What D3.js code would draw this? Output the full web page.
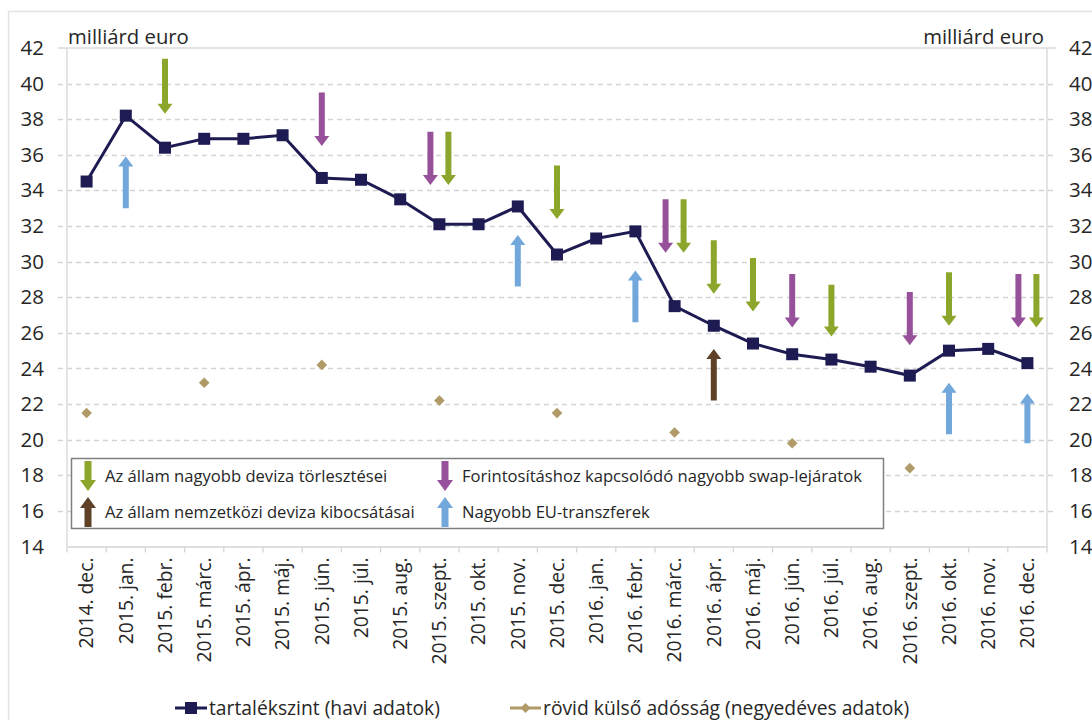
<!DOCTYPE html>
<html>
<head>
<meta charset="utf-8">
<script src="https://cdn.jsdelivr.net/npm/d3@7"></script>
<style>
    body { margin: 0; background: #fff; }
    #chart { width: 1092px; height: 720px; }
    text { font-family: "Open Sans", sans-serif; }
</style>
</head>
<body>
<div id="chart"></div>
<script>

// Months on the x axis
const months = ["2014. dec.", "2015. jan.", "2015. febr.", "2015. márc.", "2015. ápr.", "2015. máj.",
    "2015. jún.", "2015. júl.", "2015. aug.", "2015. szept.", "2015. okt.", "2015. nov.", "2015. dec.",
    "2016. jan.", "2016. febr.", "2016. márc.", "2016. ápr.", "2016. máj.", "2016. jún.", "2016. júl.",
    "2016. aug.", "2016. szept.", "2016. okt.", "2016. nov.", "2016. dec."];

// Reserve level (monthly), billion euro
const reserves = [34.5, 38.2, 36.4, 36.9, 36.9, 37.1, 34.7, 34.6, 33.5, 32.1, 32.1, 33.1, 30.4,
    31.3, 31.7, 27.5, 26.4, 25.4, 24.8, 24.5, 24.1, 23.6, 25.0, 25.1, 24.3];

// Short-term external debt (quarterly)
const debtMonths = ["2014. dec.", "2015. márc.", "2015. jún.", "2015. szept.", "2015. dec.",
    "2016. márc.", "2016. jún.", "2016. szept."];
const debt = [21.5, 23.2, 24.2, 22.2, 21.5, 20.4, 19.8, 18.4];

// Annotation arrows: [month, type, from value, to value]
const arrows = [
    ["2015. jan.", "eu", 33.0, 35.9],
    ["2015. febr.", "repay", 41.4, 38.3],
    ["2015. jún.", "swap", 39.5, 36.5],
    ["2015. szept.", "swap", 37.3, 34.3],
    ["2015. szept.", "repay", 37.3, 34.3],
    ["2015. nov.", "eu", 28.6, 31.5],
    ["2015. dec.", "repay", 35.4, 32.4],
    ["2016. febr.", "eu", 26.6, 29.5],
    ["2016. márc.", "swap", 33.5, 30.5],
    ["2016. márc.", "repay", 33.5, 30.5],
    ["2016. ápr.", "repay", 31.2, 28.2],
    ["2016. ápr.", "issue", 22.2, 25.1],
    ["2016. máj.", "repay", 30.2, 27.2],
    ["2016. jún.", "swap", 29.3, 26.3],
    ["2016. júl.", "repay", 28.7, 25.8],
    ["2016. szept.", "swap", 28.3, 25.3],
    ["2016. okt.", "repay", 29.4, 26.4],
    ["2016. okt.", "eu", 20.3, 23.2],
    ["2016. dec.", "swap", 29.3, 26.3],
    ["2016. dec.", "repay", 29.3, 26.3],
    ["2016. dec.", "eu", 19.8, 22.6]
];

const yTicks = [14, 16, 18, 20, 22, 24, 26, 28, 30, 32, 34, 36, 38, 40, 42];

const arrowTypes = ["repay", "swap", "issue", "eu"];
const arrowLabels = ["Az állam nagyobb deviza törlesztései", "Forintosításhoz kapcsolódó nagyobb swap-lejáratok",
    "Az állam nemzetközi deviza kibocsátásai", "Nagyobb EU-transzferek"];
const arrowColors = ["#8ba62b", "#97519a", "#5f4128", "#72a7dc"];

const seriesLabels = ["tartalékszint (havi adatok)", "rövid külső adósság (negyedéves adatok)"];


class ReserveChart {

    constructor(parentElement) {
        this.parentElement = parentElement;
        this.initVis();
    }

    initVis() {
        let vis = this;

        vis.svg = d3.select("#" + vis.parentElement).append("svg")
            .attr("width", 1092)
            .attr("height", 720);

        // chart frame (only top and left show in the picture)
        vis.svg.append("path")
            .attr("d", "M8.5,720 V11.5 H1092")
            .attr("fill", "none")
            .attr("stroke", "#e3e3e3")
            .attr("stroke-width", 1.5);

        vis.left = 67;
        vis.right = 1047;
        vis.top = 48;
        vis.bottom = 546.5;

        vis.x = d3.scaleBand()
            .domain(months)
            .range([vis.left, vis.right]);
        vis.y = d3.scaleLinear()
            .domain([14, 42])
            .range([vis.bottom, vis.top]);

        vis.cx = d => vis.x(d) + vis.x.bandwidth() / 2;

        vis.typeColor = d3.scaleOrdinal().domain(arrowTypes).range(arrowColors);

        // gridlines
        vis.svg.append("g")
            .selectAll("line")
            .data(yTicks.filter(d => d > 14 && d < 42))
            .join("line")
            .attr("x1", vis.left - 9)
            .attr("x2", vis.right + 9)
            .attr("y1", d => Math.round(vis.y(d)) + 0.5)
            .attr("y2", d => Math.round(vis.y(d)) + 0.5)
            .attr("stroke", "#d4d4d4")
            .attr("stroke-width", 1.3)
            .attr("stroke-dasharray", "5,4");

        // frame lines of the plot
        vis.svg.append("path")
            .attr("d", `M${vis.left - 9},${vis.top} H${vis.right + 9}`
                + ` M${vis.left},${vis.top} V${vis.bottom}`
                + ` M${vis.right},${vis.top} V${vis.bottom}`)
            .attr("fill", "none")
            .attr("stroke", "#dcdcdc")
            .attr("stroke-width", 1.5);

        // y axes, left and right
        vis.yAxisL = d3.axisLeft(vis.y).tickValues(yTicks).tickSize(0).tickPadding(23);
        vis.yAxisR = d3.axisRight(vis.y).tickValues(yTicks).tickSize(0).tickPadding(22);

        [[vis.yAxisL, vis.left], [vis.yAxisR, vis.right]].forEach(a => {
            let g = vis.svg.append("g")
                .attr("transform", "translate(" + a[1] + ",0)")
                .call(a[0]);
            g.select(".domain").remove();
            g.selectAll("text")
                .attr("font-size", 20.5)
                .attr("fill", "#262626")
                .attr("font-family", "'Open Sans', sans-serif");
        });

        // x axis
        vis.xAxis = d3.axisBottom(vis.x).tickSize(0).tickPadding(0);
        let xg = vis.svg.append("g")
            .attr("transform", "translate(0," + vis.bottom + ")")
            .call(vis.xAxis);
        xg.select(".domain")
            .attr("stroke", "#d4d4d4")
            .attr("stroke-width", 1.5);
        xg.selectAll("text")
            .attr("font-size", 19.3)
            .attr("fill", "#262626")
            .attr("font-family", "'Open Sans', sans-serif")
            .attr("text-anchor", "end")
            .attr("dy", "0.35em")
            .attr("transform", "translate(0,11) rotate(-90)");

        // boundary ticks between the months
        vis.svg.append("g")
            .selectAll("line")
            .data(months.concat(["end"]))
            .join("line")
            .attr("x1", (d, i) => vis.left + i * vis.x.bandwidth())
            .attr("x2", (d, i) => vis.left + i * vis.x.bandwidth())
            .attr("y1", vis.bottom)
            .attr("y2", vis.bottom + 6)
            .attr("stroke", "#d4d4d4")
            .attr("stroke-width", 1.3);

        // unit labels
        vis.svg.append("text")
            .attr("x", 68)
            .attr("y", 44)
            .attr("font-size", 20.3)
            .attr("fill", "#262626")
            .text("milliárd euro");
        vis.svg.append("text")
            .attr("x", 1044)
            .attr("y", 44)
            .attr("font-size", 20.3)
            .attr("fill", "#262626")
            .attr("text-anchor", "end")
            .text("milliárd euro");

        // reserve line
        vis.svg.append("path")
            .datum(reserves)
            .attr("fill", "none")
            .attr("stroke", "#1d1b52")
            .attr("stroke-width", 3)
            .attr("d", d3.line()
                .x((d, i) => vis.cx(months[i]))
                .y(d => vis.y(d)));

        vis.svg.append("g")
            .selectAll("rect")
            .data(reserves)
            .join("rect")
            .attr("x", (d, i) => vis.cx(months[i]) - 6)
            .attr("y", d => vis.y(d) - 6)
            .attr("width", 12)
            .attr("height", 12)
            .attr("fill", "#1d1b52");

        // short external debt diamonds
        vis.svg.append("g")
            .selectAll("path")
            .data(debt)
            .join("path")
            .attr("transform", (d, i) => "translate(" + vis.cx(debtMonths[i]) + "," + vis.y(d) + ")")
            .attr("d", d3.symbol(d3.symbolDiamond2, 72))
            .attr("fill", "#af9a68");

        // arrows; months with two downward arrows get them side by side
        arrows.forEach(a => {
            let pair = arrows.filter(b => b[0] === a[0] && (b[3] < b[2]) === (a[3] < a[2]));
            let off = 0;
            if (pair.length > 1) off = pair.indexOf(a) === 0 ? -9 : 9;
            vis.drawArrow(vis.svg, vis.cx(a[0]) + off, vis.y(a[2]), vis.y(a[3]), vis.typeColor(a[1]), 6, 15, 10);
        });

        // legend box
        vis.svg.append("rect")
            .attr("x", 71.5)
            .attr("y", 458.5)
            .attr("width", 812)
            .attr("height", 70)
            .attr("fill", "#fff")
            .attr("stroke", "#7f7f7f")
            .attr("stroke-width", 1.5);

        let legendPos = [[88, 476], [445, 476], [88, 512], [445, 512]];
        arrowTypes.forEach((t, i) => {
            let p = legendPos[i];
            let down = (t === "repay" || t === "swap");
            vis.drawArrow(vis.svg, p[0], down ? p[1] - 15 : p[1] + 15, down ? p[1] + 15 : p[1] - 15,
                arrowColors[i], 7, 16, 11);
            vis.svg.append("text")
                .attr("x", p[0] + 17)
                .attr("y", p[1])
                .attr("dy", "0.35em")
                .attr("font-size", 16.6)
                .attr("fill", "#262626")
                .text(arrowLabels[i]);
        });

        // series legend at the bottom
        let sl = vis.svg.append("g");
        sl.append("line")
            .attr("x1", 175).attr("x2", 207)
            .attr("y1", 708).attr("y2", 708)
            .attr("stroke", "#1d1b52").attr("stroke-width", 3);
        sl.append("rect")
            .attr("x", 185).attr("y", 702)
            .attr("width", 12).attr("height", 12)
            .attr("fill", "#1d1b52");
        sl.append("text")
            .attr("x", 209).attr("y", 708)
            .attr("dy", "0.35em")
            .attr("font-size", 19.3)
            .attr("fill", "#262626")
            .text(seriesLabels[0]);
        sl.append("line")
            .attr("x1", 510).attr("x2", 541)
            .attr("y1", 708).attr("y2", 708)
            .attr("stroke", "#af9a68").attr("stroke-width", 3);
        sl.append("path")
            .attr("transform", "translate(525.5,708)")
            .attr("d", d3.symbol(d3.symbolDiamond2, 64))
            .attr("fill", "#af9a68");
        sl.append("text")
            .attr("x", 543).attr("y", 708)
            .attr("dy", "0.35em")
            .attr("font-size", 19.3)
            .attr("fill", "#262626")
            .text(seriesLabels[1]);
    }

    // block arrow from y0 (tail) to y1 (tip)
    drawArrow(svg, x, y0, y1, color, shaft, head, headLen) {
        let dir = y1 > y0 ? 1 : -1;
        let yb = y1 - dir * headLen;
        let path = d3.path();
        path.moveTo(x - shaft / 2, y0);
        path.lineTo(x - shaft / 2, yb);
        path.lineTo(x - head / 2, yb);
        path.lineTo(x, y1);
        path.lineTo(x + head / 2, yb);
        path.lineTo(x + shaft / 2, yb);
        path.lineTo(x + shaft / 2, y0);
        path.closePath();
        svg.append("path")
            .attr("d", path.toString())
            .attr("fill", color);
    }

}

new ReserveChart("chart");

</script>
</body>
</html>
